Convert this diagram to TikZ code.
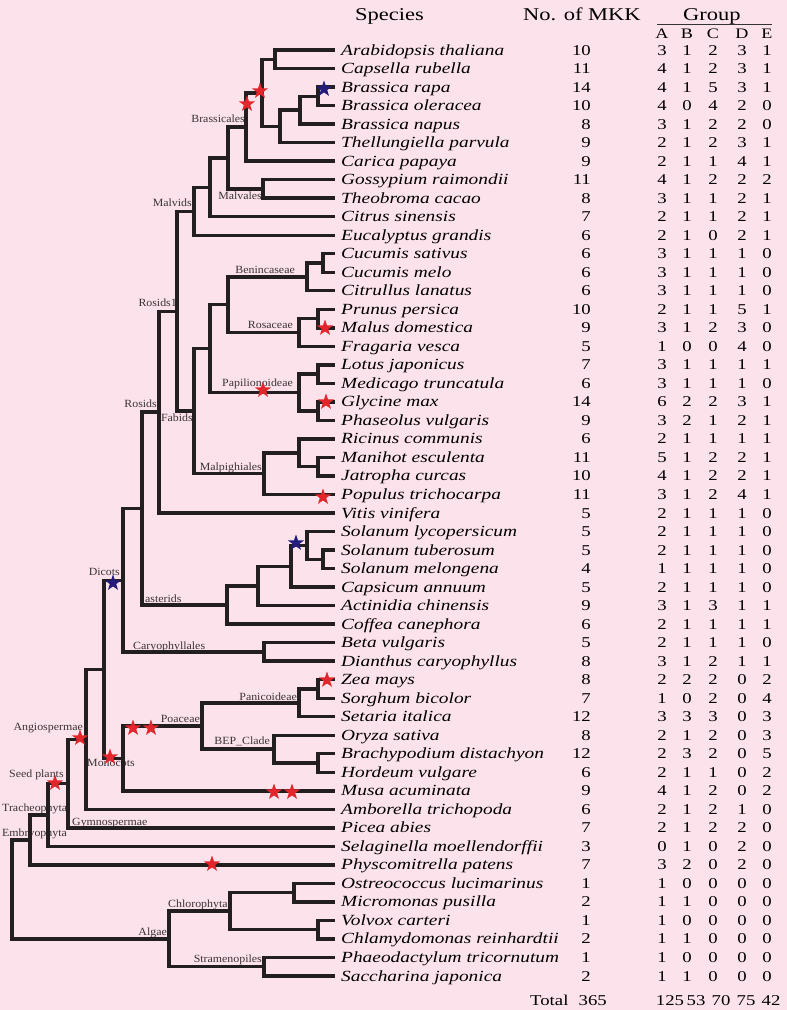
\documentclass[tikz,border=0pt]{standalone}
\usepackage{fontspec}
\setmainfont{Liberation Serif}[FakeStretch=1.25]
\newfontfamily\labfont{Liberation Serif}[FakeStretch=1.08]
\usetikzlibrary{shapes.geometric}
\definecolor{bg}{HTML}{FBE2EB}
\definecolor{starred}{HTML}{E3262B}
\definecolor{starblue}{HTML}{231C7C}
\definecolor{treeline}{HTML}{231F20}
\definecolor{labelgray}{HTML}{3A3436}
\begin{document}
\begin{tikzpicture}[x=1pt,y=-1pt,
  declare function={Y(\k)=50+(\k-1)*18.52;},
  tree/.style={draw=treeline,line width=3.4pt,line join=miter},
  sp/.style={anchor=base west,inner sep=0pt,font=\fontsize{15.5}{18}\selectfont\itshape,text=black},
  num/.style={anchor=base,inner sep=0pt,font=\fontsize{15}{18}\selectfont,text=black},
  numr/.style={anchor=base east,inner sep=0pt,font=\fontsize{15}{18}\selectfont,text=black},
  head/.style={anchor=base west,inner sep=0pt,font=\fontsize{18}{20}\selectfont,text=black},
  colhead/.style={anchor=base,inner sep=0pt,font=\fontsize{14.5}{16}\selectfont,text=black},
  cl/.style={inner sep=0pt,font=\labfont\fontsize{11}{12}\selectfont,text=labelgray},
  rstar/.style={star,star points=5,star point ratio=2.5,minimum size=17pt,inner sep=0pt,fill=starred,draw=none},
  bstar/.style={star,star points=5,star point ratio=2.5,minimum size=17pt,inner sep=0pt,fill=starblue,draw=none}]
\path[fill=bg] (0,0) rectangle (787,1010);
% headers
\node[head] (hsp) at (355,20) {Species};
\node[head] (hmkk) at (523,20) {No. of MKK};
\node[head] (hgrp) at (683,20) {Group};
\coordinate (ulA) at (657,24);
\coordinate (ulB) at (772,24);
\draw[line width=0.8pt,black!80] (ulA) -- (ulB);
\foreach \L/\x in {A/662,B/687,C/713,D/742,E/767}
  \node[colhead] (col\L) at (\x,38) {\L};
% species rows
\foreach \i/\nm/\n/\a/\b/\c/\d/\e in {
1/Arabidopsis thaliana/10/3/1/2/3/1,
2/Capsella rubella/11/4/1/2/3/1,
3/Brassica rapa/14/4/1/5/3/1,
4/Brassica oleracea/10/4/0/4/2/0,
5/Brassica napus/8/3/1/2/2/0,
6/Thellungiella parvula/9/2/1/2/3/1,
7/Carica papaya/9/2/1/1/4/1,
8/Gossypium raimondii/11/4/1/2/2/2,
9/Theobroma cacao/8/3/1/1/2/1,
10/Citrus sinensis/7/2/1/1/2/1,
11/Eucalyptus grandis/6/2/1/0/2/1,
12/Cucumis sativus/6/3/1/1/1/0,
13/Cucumis melo/6/3/1/1/1/0,
14/Citrullus lanatus/6/3/1/1/1/0,
15/Prunus persica/10/2/1/1/5/1,
16/Malus domestica/9/3/1/2/3/0,
17/Fragaria vesca/5/1/0/0/4/0,
18/Lotus japonicus/7/3/1/1/1/1,
19/Medicago truncatula/6/3/1/1/1/0,
20/Glycine max/14/6/2/2/3/1,
21/Phaseolus vulgaris/9/3/2/1/2/1,
22/Ricinus communis/6/2/1/1/1/1,
23/Manihot esculenta/11/5/1/2/2/1,
24/Jatropha curcas/10/4/1/2/2/1,
25/Populus trichocarpa/11/3/1/2/4/1,
26/Vitis vinifera/5/2/1/1/1/0,
27/Solanum lycopersicum/5/2/1/1/1/0,
28/Solanum tuberosum/5/2/1/1/1/0,
29/Solanum melongena/4/1/1/1/1/0,
30/Capsicum annuum/5/2/1/1/1/0,
31/Actinidia chinensis/9/3/1/3/1/1,
32/Coffea canephora/6/2/1/1/1/1,
33/Beta vulgaris/5/2/1/1/1/0,
34/Dianthus caryophyllus/8/3/1/2/1/1,
35/Zea mays/8/2/2/2/0/2,
36/Sorghum bicolor/7/1/0/2/0/4,
37/Setaria italica/12/3/3/3/0/3,
38/Oryza sativa/8/2/1/2/0/3,
39/Brachypodium distachyon/12/2/3/2/0/5,
40/Hordeum vulgare/6/2/1/1/0/2,
41/Musa acuminata/9/4/1/2/0/2,
42/Amborella trichopoda/6/2/1/2/1/0,
43/Picea abies/7/2/1/2/2/0,
44/Selaginella moellendorffii/3/0/1/0/2/0,
45/Physcomitrella patens/7/3/2/0/2/0,
46/Ostreococcus lucimarinus/1/1/0/0/0/0,
47/Micromonas pusilla/2/1/1/0/0/0,
48/Volvox carteri/1/1/0/0/0/0,
49/Chlamydomonas reinhardtii/2/1/1/0/0/0,
50/Phaeodactylum tricornutum/1/1/0/0/0/0,
51/Saccharina japonica/2/1/1/0/0/0}{
  \coordinate (l\i) at (335,{Y(\i)});
  \node[sp] (s\i) at (341,{Y(\i)+5}) {\nm};
  \node[numr] (m\i) at (591,{Y(\i)+5}) {\n};
  \node[num] (ga\i) at (662,{Y(\i)+5}) {\a};
  \node[num] (gb\i) at (687,{Y(\i)+5}) {\b};
  \node[num] (gc\i) at (713,{Y(\i)+5}) {\c};
  \node[num] (gd\i) at (742,{Y(\i)+5}) {\d};
  \node[num] (ge\i) at (767,{Y(\i)+5}) {\e};
}
% totals
\node[anchor=base west,inner sep=0pt,font=\fontsize{15}{18}\selectfont] (tot) at (530,1005) {Total};
\node[numr] (tmkk) at (607,1005) {365};
\node[num] (tA) at (670,1005) {125};
\node[num] (tB) at (696,1005) {53};
\node[num] (tC) at (721,1005) {70};
\node[num] (tD) at (746,1005) {75};
\node[num] (tE) at (771,1005) {42};
% clade labels (under the lines)
\foreach \nm/\anc/\x/\y/\t in {
 cBra/base east/245/122.5/Brassicales,
 cMalv/base east/262/199/Malvales,
 cMvd/base east/192/206.5/Malvids,
 cRo1/base east/177/306/Rosids1,
 cBen/base east/295/273.5/Benincaseae,
 cRsc/base east/293/328.5/Rosaceae,
 cPap/base east/293/386.5/Papilionoideae,
 cRos/base east/157/407.5/Rosids,
 cFab/base east/193/421.5/Fabids,
 cMal/base east/262/470.5/Malpighiales,
 cDic/base east/120/575.5/Dicots,
 cAst/base west/145/602.5/asterids,
 cCar/base west/133/649.5/Caryophyllales,
 cPan/base east/297/700.5/Panicoideae,
 cPoa/base east/200/722.5/Poaceae,
 cBEP/base east/270/744.5/BEP\_Clade,
 cAng/base east/83/730.5/Angiospermae,
 cMon/base west/87/766.5/Monocots,
 cSee/base west/9/777.5/Seed plants,
 cTra/base west/2/811.5/Tracheophyta,
 cGym/base west/72/825.5/Gymnospermae,
 cEmb/base west/2/836.5/Embryophyta,
 cChl/base west/168/907.5/Chlorophyta,
 cAlg/base east/167/935.5/Algae,
 cStr/base east/262/962.5/Stramenopiles}
  \node[cl,anchor=\anc] (\nm) at (\x,\y) {\t};
% internal nodes of the tree
\foreach \nm/\x/\k in {
 nRapOle/318/3.5, nRON/300/4.25, nROT/280/5.125, nAC/275/1.5,
 nBrc/262/3.3125, nBrl/246/5.156, nMlv/263/8.5, nBM/228/6.828,
 nCit/210/8.414, nMvd/194/9.707,
 nCuc/323/12.5, nBen/307/13.25, nPM/318/15.5, nRsc/299/16.25, nBR/228/14.75,
 nLM/318/18.5, nGP/318/20.5, nPap/299/19.5, nBRP/210/17.125,
 nMJ/318/23.5, nRMJ/299/22.75, nMal/264/23.875, nFab/194/20.5,
 nRo1/177/15.1035, nRos/159/20.552,
 nTM/323/28.5, nSol/307/27.75, nCap/291/28.875, nAct/258/29.94, nAst/227/30.97,
 nRA/142/25.76, nCar/264/33.5, nDic/123/29.63,
 nZS/318/35.5, nPan/299/36.25, nBH/318/39.5, nBEP/274/38.75, nPoa/202/37.5,
 nMon/123/39.25, nDM/104/34.44, nAmb/86/38.22, nAng/68/40.61, nSee/48/42.305,
 nTra/30/43.65,
 nOM/294/46.5, nVC/318/48.5, nChl/230/47.5, nStr/264/50.5, nAlg/169/49,
 nRoot/12/46.33}
  \coordinate (\nm) at (\x,{Y(\k)});
% branches
\foreach \p/\c in {
 nRoot/nTra, nRoot/nAlg,
 nTra/nSee, nTra/l45, nSee/nAng, nSee/l44, nAng/nAmb, nAng/l43,
 nAmb/nDM, nAmb/l42, nDM/nDic, nDM/nMon,
 nDic/nRA, nDic/nCar, nRA/nRos, nRA/nAst, nRos/nRo1, nRos/l26,
 nRo1/nMvd, nRo1/nFab, nMvd/nCit, nMvd/l11, nCit/nBM, nCit/l10,
 nBM/nBrl, nBM/nMlv, nBrl/nBrc, nBrl/l7, nBrc/nAC, nBrc/nROT,
 nAC/l1, nAC/l2, nROT/nRON, nROT/l6, nRON/nRapOle, nRON/l5,
 nRapOle/l3, nRapOle/l4, nMlv/l8, nMlv/l9,
 nFab/nBRP, nFab/nMal, nBRP/nBR, nBRP/nPap, nBR/nBen, nBR/nRsc,
 nBen/nCuc, nBen/l14, nCuc/l12, nCuc/l13, nRsc/nPM, nRsc/l17,
 nPM/l15, nPM/l16, nPap/nLM, nPap/nGP, nLM/l18, nLM/l19, nGP/l20, nGP/l21,
 nMal/nRMJ, nMal/l25, nRMJ/l22, nRMJ/nMJ, nMJ/l23, nMJ/l24,
 nAst/nAct, nAst/l32, nAct/nCap, nAct/l31, nCap/nSol, nCap/l30,
 nSol/l27, nSol/nTM, nTM/l28, nTM/l29, nCar/l33, nCar/l34,
 nMon/nPoa, nMon/l41, nPoa/nPan, nPoa/nBEP, nPan/nZS, nPan/l37,
 nZS/l35, nZS/l36, nBEP/l38, nBEP/nBH, nBH/l39, nBH/l40,
 nAlg/nChl, nAlg/nStr, nChl/nOM, nChl/nVC, nOM/l46, nOM/l47,
 nVC/l48, nVC/l49, nStr/l50, nStr/l51}
  \draw[tree] (\p) |- (\c);
% stars
\foreach \nm/\x/\y in {r1/260/91, r2/247/104, r3/325/328, r4/263/390, r5/326/402,
 r6/323/497, r7/80/738, r8/110/757, r9/133/728, r10/151/728, r11/327/680,
 r12/274/792, r13/292/792, r14/55/783, r15/212/864}
  \node[rstar] (\nm) at (\x,\y) {};
\foreach \nm/\x/\y in {b1/324/89, b2/296/543, b3/113/583}
  \node[bstar] (\nm) at (\x,\y) {};
\end{tikzpicture}
\end{document}
